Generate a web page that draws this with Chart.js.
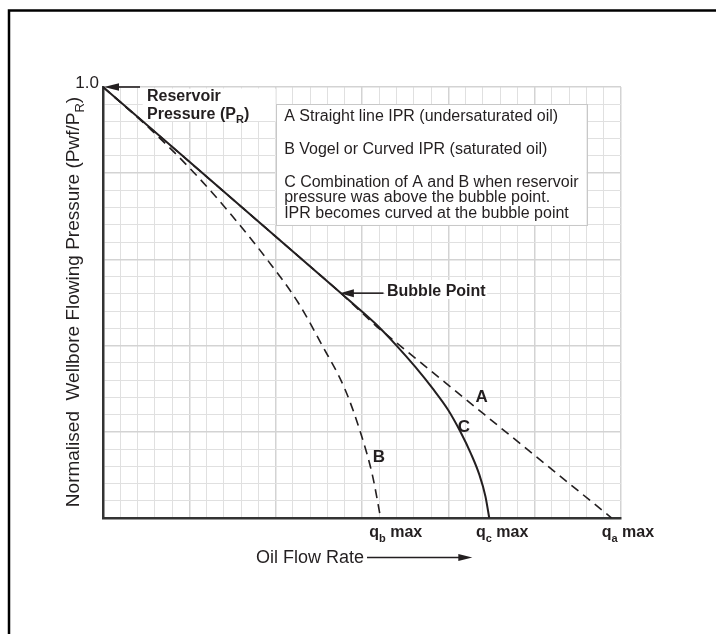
<!DOCTYPE html>
<html><head><meta charset="utf-8">
<script src="https://cdn.jsdelivr.net/npm/chart.js@4"></script>
<style>html,body{margin:0;padding:0;background:#fff}canvas{display:block}</style>
</head><body>
<canvas id="c" width="716" height="634"></canvas>
<script>
// ---- data (x = oil flow rate in grid cells, y = Pwf/PR) ----
const rateA = [0, 13.72, 15.85, 22.12, 29.46];
const pressureA = [1.0, 0.524, 0.444, 0.239, 0.0];

const rateB = [0, 2.8, 5.3, 7.5, 9.5, 11.3, 12.7, 14.0, 14.9, 15.6, 16.08];
const pressureB = [1.0, 0.9, 0.8, 0.7, 0.6, 0.5, 0.4, 0.3, 0.2, 0.1, 0.0];

const rateC = [0, 13.72, 14.4, 15.8, 17.0, 18.1, 19.1, 20.0, 20.7, 21.3, 21.8, 22.15, 22.37];
const pressureC = [1.0, 0.524, 0.5, 0.45, 0.4, 0.35, 0.3, 0.25, 0.2, 0.15, 0.1, 0.05, 0.0];

const bubblePoint = [13.72, 0.524];
const yTickLabels = ['1.0'];
const qmaxSubs = ['b', 'c', 'a'];
const qmaxRates = [16.08, 22.37, 29.46];
const curveLetters = ['A', 'C', 'B'];
const legendLines = [
  'A Straight line IPR (undersaturated oil)',
  'B Vogel or Curved IPR (saturated oil)',
  'C Combination of A and B when reservoir',
  'pressure was above the bubble point.',
  'IPR becomes curved at the bubble point'
];

const FONT = '"Liberation Sans", Arial, Helvetica, sans-serif';
const INK = '#231f20';

function pts(xs, ys) { return xs.map((x, i) => ({ x: x, y: ys[i] })); }

function richText(ctx, parts, x, y, size, bold, align) {
  const f = s => (bold ? 'bold ' : '') + s + 'px ' + FONT;
  const sub = Math.round(size * 0.68);
  let w = 0;
  parts.forEach(p => { ctx.font = f(p[1] ? sub : size); w += ctx.measureText(p[0]).width; });
  let cx = align === 'center' ? x - w / 2 : align === 'right' ? x - w : x;
  ctx.textAlign = 'left'; ctx.textBaseline = 'alphabetic';
  parts.forEach(p => {
    ctx.font = f(p[1] ? sub : size);
    ctx.fillText(p[0], cx, y + (p[1] ? size * 0.27 : 0));
    cx += ctx.measureText(p[0]).width;
  });
  return w;
}

function arrowLeft(ctx, tipX, tipY, tailX, headLen, headHalf) {
  ctx.beginPath(); ctx.moveTo(tailX, tipY); ctx.lineTo(tipX + headLen - 1, tipY); ctx.stroke();
  ctx.beginPath(); ctx.moveTo(tipX, tipY); ctx.lineTo(tipX + headLen, tipY - headHalf);
  ctx.lineTo(tipX + headLen, tipY + headHalf); ctx.closePath(); ctx.fill();
}
function arrowRight(ctx, tipX, tipY, tailX, headLen, headHalf) {
  ctx.beginPath(); ctx.moveTo(tailX, tipY); ctx.lineTo(tipX - headLen + 1, tipY); ctx.stroke();
  ctx.beginPath(); ctx.moveTo(tipX, tipY); ctx.lineTo(tipX - headLen, tipY - headHalf);
  ctx.lineTo(tipX - headLen, tipY + headHalf); ctx.closePath(); ctx.fill();
}

const overlay = {
  id: 'overlay',
  beforeDraw(chart) {
    const ctx = chart.ctx;
    ctx.save();
    ctx.fillStyle = '#fff'; ctx.fillRect(0, 0, chart.width, chart.height);
    ctx.strokeStyle = '#000'; ctx.lineWidth = 2.5;
    ctx.beginPath(); ctx.moveTo(9, 640); ctx.lineTo(9, 10.5); ctx.lineTo(720, 10.5); ctx.stroke();
    ctx.restore();
  },
  beforeDatasetsDraw(chart) {
    const ctx = chart.ctx, xs = chart.scales.x, ys = chart.scales.y;
    const X = v => xs.getPixelForValue(v), Y = v => ys.getPixelForValue(v);
    ctx.save();
    ctx.fillStyle = '#fff';
    // background behind "Reservoir Pressure"
    ctx.fillRect(X(2.3), Y(1) + 1.5, X(10) - X(2.3), Y(0.92) - Y(1) - 2);
    // legend box
    ctx.fillRect(X(10), Y(0.96), X(28) - X(10), Y(0.68) - Y(0.96));
    ctx.strokeStyle = '#c8c8c8'; ctx.lineWidth = 1;
    ctx.strokeRect(Math.round(X(10)) + 0.5, Math.round(Y(0.96)) + 0.5, Math.round(X(28) - X(10)), Math.round(Y(0.68) - Y(0.96)));
    // background behind "Bubble Point"
    ctx.fillRect(385, 280, 102, 19);
    ctx.restore();
  },
  afterDraw(chart) {
    const ctx = chart.ctx, xs = chart.scales.x, ys = chart.scales.y;
    const X = v => xs.getPixelForValue(v), Y = v => ys.getPixelForValue(v);
    ctx.save();
    ctx.fillStyle = INK; ctx.strokeStyle = INK;

    // y tick label
    ctx.font = '17px ' + FONT; ctx.textAlign = 'right'; ctx.textBaseline = 'alphabetic';
    ctx.fillText(yTickLabels[0], X(0) - 4, Y(1) + 0.5);

    // Reservoir pressure annotation
    ctx.lineWidth = 1.6;
    arrowLeft(ctx, X(0) + 1, Y(1), 140, 15, 3.8);
    ctx.font = 'bold 16px ' + FONT; ctx.textAlign = 'left';
    ctx.fillText('Reservoir', 147, 100.5);
    richText(ctx, [['Pressure (P', 0], ['R', 1], [')', 0]], 147, 119, 16, true, 'left');

    // legend text
    ctx.font = '16px ' + FONT; ctx.textAlign = 'left';
    const lx = X(10) + 8.5, ty = Y(0.96);
    const offs = [16.7, 49.7, 82.7, 98.2, 113.7];
    legendLines.forEach((t, i) => ctx.fillText(t, lx, ty + offs[i]));

    // bubble point
    const bx = X(bubblePoint[0]), by = Y(bubblePoint[1]) + 1;
    arrowLeft(ctx, bx, by, 383.5, 14, 4);
    ctx.font = 'bold 16px ' + FONT; ctx.textAlign = 'left';
    ctx.fillText('Bubble Point', 387, 295.5);

    // curve letters
    ctx.font = 'bold 17px ' + FONT; ctx.textAlign = 'center';
    ctx.fillText(curveLetters[0], 481.7, 401.7);
    ctx.fillText(curveLetters[1], 464, 431.7);
    ctx.fillText(curveLetters[2], 379, 462);

    // q max labels
    qmaxSubs.forEach((s, i) => {
      const startX = [369.3, 476, 601.7][i];
      richText(ctx, [['q', 0], [s, 1], [' max', 0]], startX, 537.3, 16, true, 'left');
    });

    // x axis title
    ctx.font = '18px ' + FONT; ctx.textAlign = 'right';
    ctx.fillText('Oil Flow Rate', 364, 563);
    ctx.lineWidth = 1.4;
    arrowRight(ctx, 472.3, 557.5, 367, 14, 3.6);

    // y axis title
    ctx.save();
    ctx.translate(72, 302); ctx.rotate(-Math.PI / 2);
    richText(ctx, [['Normalised  Wellbore Flowing Pressure (Pwf/P', 0], ['R', 1], [')', 0]], 0, 7, 19, false, 'center');
    ctx.restore();

    ctx.restore();
  }
};

const gridColor = c => (c.index % 5 === 0 ? '#d3d3d3' : '#e0e0e0');
const gridWidth = c => (c.index % 5 === 0 ? 1.5 : 1);

new Chart(document.getElementById('c'), {
  type: 'line',
  data: {
    datasets: [
      { label: 'C', data: pts(rateC, pressureC), borderColor: INK, borderWidth: 2, pointRadius: 0,
        cubicInterpolationMode: 'monotone', fill: false },
      { label: 'A', data: pts(rateA, pressureA), borderColor: INK, borderWidth: 1.6, borderDash: [9, 6],
        pointRadius: 0, tension: 0, fill: false },
      { label: 'B', data: pts(rateB, pressureB), borderColor: INK, borderWidth: 1.6, borderDash: [9, 6],
        pointRadius: 0, cubicInterpolationMode: 'monotone', fill: false }
    ]
  },
  options: {
    responsive: false, animation: false, devicePixelRatio: 1,
    layout: { padding: { left: 103, top: 87, right: 95, bottom: 116 } },
    plugins: { legend: { display: false }, tooltip: { enabled: false } },
    scales: {
      x: { type: 'linear', min: 0, max: 30,
        ticks: { display: false, stepSize: 1, maxTicksLimit: 1000 },
        grid: { drawTicks: false, color: gridColor, lineWidth: gridWidth },
        border: { color: '#333', width: 2.5 } },
      y: { type: 'linear', min: 0, max: 1,
        ticks: { display: false, stepSize: 0.04, maxTicksLimit: 1000 },
        grid: { drawTicks: false, color: gridColor, lineWidth: gridWidth },
        border: { color: '#333', width: 2.5 } }
    }
  },
  plugins: [overlay]
});
</script>
</body></html>
